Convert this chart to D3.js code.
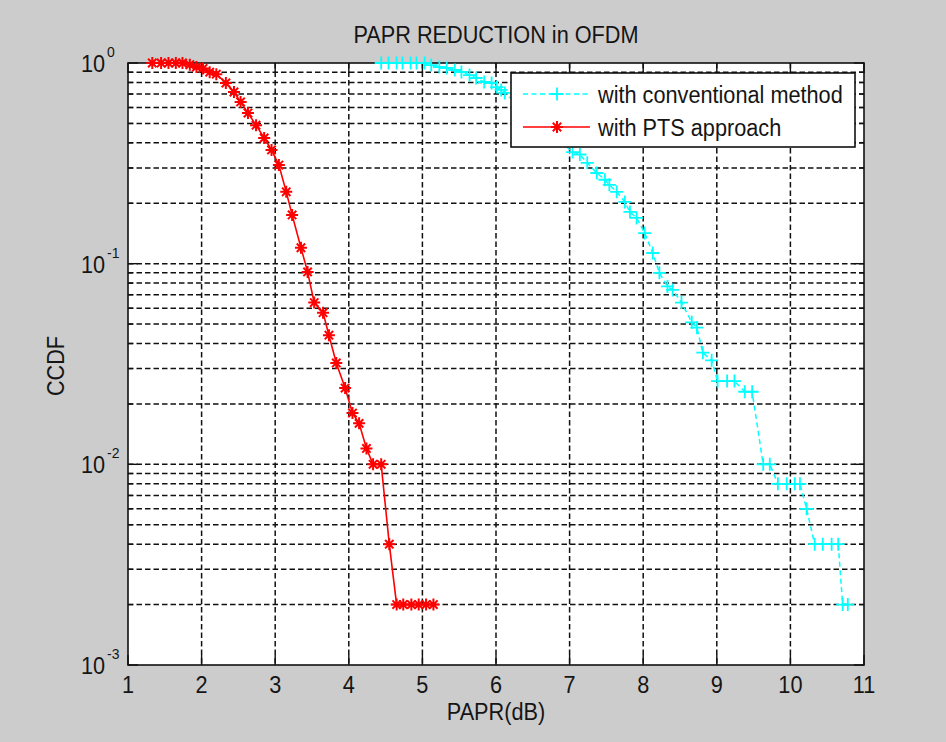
<!DOCTYPE html>
<html>
<head>
<meta charset="utf-8">
<script src="https://cdn.jsdelivr.net/npm/d3@7"></script>
<style>
  body { margin: 0; background: #cccccc; }
  svg text { font-family: "Liberation Sans", Arial, sans-serif; fill: #151515; }
</style>
</head>
<body>
<div id="container"></div>
<script>
let w = 946;
let h = 742;

// DATA
let xTicks = [1, 2, 3, 4, 5, 6, 7, 8, 9, 10, 11];
let yMajor = [0.001, 0.01, 0.1, 1];
let yExp = ["-3", "-2", "-1", "0"];

let convX = [4.44, 4.54, 4.65, 4.73, 4.84, 4.92, 5.03, 5.12, 5.23, 5.33, 5.44, 5.53, 5.64, 5.73, 5.84, 5.94, 6.01, 6.07, 6.12,
  7.04, 7.14, 7.24, 7.37, 7.48, 7.54, 7.64, 7.75, 7.82, 7.91, 8.02, 8.13, 8.22, 8.33, 8.40, 8.52, 8.66, 8.73, 8.81, 8.93,
  9.01, 9.14, 9.24, 9.38, 9.48, 9.63, 9.72, 9.83, 9.95, 10.06, 10.13, 10.22, 10.33, 10.44, 10.56, 10.65, 10.71, 10.78];
let convY = [1, 1, 1, 1, 1, 1, 1, 0.977, 0.955, 0.944, 0.923, 0.902, 0.871, 0.842, 0.804, 0.795, 0.759, 0.734, 0.709,
  0.36, 0.35, 0.318, 0.283, 0.262, 0.247, 0.228, 0.203, 0.181, 0.169, 0.142, 0.113, 0.090, 0.077, 0.074, 0.064, 0.051, 0.048, 0.036, 0.033,
  0.026, 0.026, 0.026, 0.023, 0.023, 0.01, 0.01, 0.008, 0.008, 0.008, 0.008, 0.006, 0.004, 0.004, 0.004, 0.004, 0.002, 0.002];

let ptsX = [1.33, 1.45, 1.55, 1.65, 1.74, 1.84, 1.93, 2.02, 2.11, 2.20, 2.33, 2.44, 2.53, 2.63, 2.74, 2.85, 2.95, 3.05, 3.15, 3.23,
  3.35, 3.44, 3.53, 3.65, 3.73, 3.83, 3.95, 4.05, 4.14, 4.24, 4.33, 4.44, 4.55, 4.65, 4.74, 4.85, 4.95, 5.05, 5.15];
let ptsY = [1, 1, 1, 1, 1, 0.98, 0.955, 0.94, 0.90, 0.88, 0.795, 0.717, 0.64, 0.563, 0.49, 0.423, 0.369, 0.31, 0.228, 0.175,
  0.12, 0.091, 0.064, 0.057, 0.044, 0.032, 0.024, 0.018, 0.016, 0.012, 0.01, 0.01, 0.004, 0.002, 0.002, 0.002, 0.002, 0.002, 0.002];

let seriesNames = ["with conventional method", "with PTS approach"];

let pLeft = 128, pRight = 864, pTop = 63, pBottom = 665;
let sy = 1.1; // text in the picture is a little taller than wide
let fs = 21.7;

let viz = d3.select("#container").append("svg")
  .attr("width", w)
  .attr("height", h)
  .style("background-color", "#cccccc");

let x = d3.scaleLinear().domain([1, 11]).range([pLeft, pRight]);
let y = d3.scaleLog().domain([0.001, 1]).range([pBottom, pTop]);

function txt(px, py, s, size, anchor, rot) {
  return viz.append("text")
    .attr("transform", "translate(" + px + "," + py + ")" + (rot ? " rotate(" + rot + ")" : "") + " scale(1," + sy + ")")
    .attr("text-anchor", anchor || "middle")
    .style("font-size", size + "px")
    .text(s);
}

// plot area
viz.append("rect")
  .attr("x", pLeft).attr("y", pTop)
  .attr("width", pRight - pLeft).attr("height", pBottom - pTop)
  .attr("fill", "white");

// minor values on log axis
let yMinor = [];
yMajor.slice(0, 3).forEach(function (d) {
  for (let k = 2; k <= 9; k++) yMinor.push(d * k);
});

let grid = viz.append("g")
  .attr("stroke", "#111")
  .attr("stroke-width", 1.5)
  .attr("stroke-dasharray", "5.5,3");

grid.selectAll(".vgrid").data(xTicks.slice(1, -1)).enter()
  .append("line").attr("class", "vgrid")
  .attr("x1", d => x(d)).attr("x2", d => x(d))
  .attr("y1", pTop).attr("y2", pBottom);

grid.selectAll(".hgrid").data(yMinor.concat(yMajor.slice(1, -1))).enter()
  .append("line").attr("class", "hgrid")
  .attr("x1", pLeft).attr("x2", pRight)
  .attr("y1", d => y(d)).attr("y2", d => y(d));

// ticks (inward, all four sides)
let ticks = viz.append("g").attr("stroke", "#111").attr("stroke-width", 1.4);
xTicks.forEach(function (d) {
  ticks.append("line").attr("x1", x(d)).attr("x2", x(d)).attr("y1", pBottom).attr("y2", pBottom - 10);
  ticks.append("line").attr("x1", x(d)).attr("x2", x(d)).attr("y1", pTop).attr("y2", pTop + 10);
});
yMajor.forEach(function (d) {
  ticks.append("line").attr("x1", pLeft).attr("x2", pLeft + 10).attr("y1", y(d)).attr("y2", y(d));
  ticks.append("line").attr("x1", pRight).attr("x2", pRight - 10).attr("y1", y(d)).attr("y2", y(d));
});
yMinor.forEach(function (d) {
  ticks.append("line").attr("x1", pLeft).attr("x2", pLeft + 5).attr("y1", y(d)).attr("y2", y(d));
  ticks.append("line").attr("x1", pRight).attr("x2", pRight - 5).attr("y1", y(d)).attr("y2", y(d));
});

// box
viz.append("rect")
  .attr("x", pLeft).attr("y", pTop)
  .attr("width", pRight - pLeft).attr("height", pBottom - pTop)
  .attr("fill", "none").attr("stroke", "#111").attr("stroke-width", 1.6);

// tick labels
xTicks.forEach(function (d) {
  txt(x(d), pBottom + 28, d, fs);
});
yMajor.forEach(function (d, i) {
  txt(105, y(d) + 9, "10", fs, "end");
  txt(107, y(d) - 6, yExp[i], 14, "start");
});

// titles
txt((pLeft + pRight) / 2, 43, "PAPR REDUCTION in OFDM", fs);
txt((pLeft + pRight) / 2, 720, "PAPR(dB)", fs);
txt(64, 366, "CCDF", fs, "middle", -90);

// series
let plusPath = "M-6.5,0H6.5M0,-6.5V6.5";
let starPath = "M-6,0H6M0,-6V6M-4.2,-4.2L4.2,4.2M-4.2,4.2L4.2,-4.2";

let line = d3.line().x(d => x(d[0])).y(d => y(d[1]));
let conv = convX.map((d, i) => [d, convY[i]]);
let pts = ptsX.map((d, i) => [d, ptsY[i]]);

viz.append("path").datum(conv)
  .attr("d", line)
  .attr("fill", "none").attr("stroke", "#00ffff").attr("stroke-width", 1.5)
  .attr("stroke-dasharray", "5,3.5");
viz.selectAll(".conv").data(conv).enter()
  .append("path").attr("class", "conv")
  .attr("transform", d => "translate(" + x(d[0]) + "," + y(d[1]) + ")")
  .attr("d", plusPath)
  .attr("stroke", "#00ffff").attr("stroke-width", 1.8).attr("fill", "none");

viz.append("path").datum(pts)
  .attr("d", line)
  .attr("fill", "none").attr("stroke", "#ff0000").attr("stroke-width", 1.6);
viz.selectAll(".pts").data(pts).enter()
  .append("path").attr("class", "pts")
  .attr("transform", d => "translate(" + x(d[0]) + "," + y(d[1]) + ")")
  .attr("d", starPath)
  .attr("stroke", "#ff0000").attr("stroke-width", 2).attr("fill", "none");

// legend
let lg = viz.append("g");
lg.append("rect")
  .attr("x", 511).attr("y", 73).attr("width", 344).attr("height", 74)
  .attr("fill", "white").attr("stroke", "#111").attr("stroke-width", 1.6);

lg.append("line").attr("x1", 523).attr("x2", 590).attr("y1", 94).attr("y2", 94)
  .attr("stroke", "#00ffff").attr("stroke-width", 1.5).attr("stroke-dasharray", "5,3.5");
lg.append("path").attr("transform", "translate(557,94)").attr("d", plusPath)
  .attr("stroke", "#00ffff").attr("stroke-width", 1.8);
lg.append("line").attr("x1", 523).attr("x2", 590).attr("y1", 127).attr("y2", 127)
  .attr("stroke", "#ff0000").attr("stroke-width", 1.6);
lg.append("path").attr("transform", "translate(557,127)").attr("d", starPath)
  .attr("stroke", "#ff0000").attr("stroke-width", 2);

txt(598, 103, seriesNames[0], fs, "start");
txt(598, 136, seriesNames[1], fs, "start");
</script>
</body>
</html>
